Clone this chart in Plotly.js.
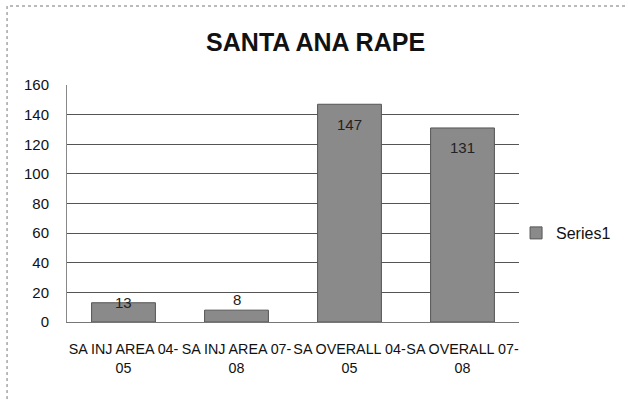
<!DOCTYPE html>
<html>
<head>
<meta charset="utf-8">
<script src="https://cdn.plot.ly/plotly-3.0.1.min.js"></script>
<style>html,body{margin:0;padding:0;background:#fff;}</style>
</head>
<body>
<div id="chart" style="width:628px;height:401px;"></div>
<script>
const categories = ["SA INJ AREA 04-<br>05", "SA INJ AREA 07-<br>08", "SA OVERALL 04-<br>05", "SA OVERALL 07-<br>08"];
const series1 = [13, 8, 147, 131];
const yTicks = [0, 20, 40, 60, 80, 100, 120, 140, 160];

const font = "Liberation Sans, Arial, sans-serif";

const trace = {
  type: "bar",
  x: categories,
  y: series1,
  name: "Series1",
  marker: {color: "#8a8a8a", line: {color: "#555", width: 1}},
  showlegend: true
};

// data labels placed Excel-style ("inside end"), computed from the values
const pxPerUnit = 237 / 160;
const labels = series1.map((v, i) => {
  const h = v * pxPerUnit;
  let yanchor = "middle", yshift = -20;
  if (h < 15) { yanchor = "bottom"; yshift = 0; }
  else if (h < 40) { yanchor = "middle"; yshift = 0; }
  return {
    x: categories[i], y: v, xref: "x", yref: "y",
    text: String(v), showarrow: false, yanchor: yanchor, yshift: yshift,
    font: {family: font, size: 15, color: "#222"}
  };
});

const layout = {
  width: 628, height: 401,
  margin: {l: 67, r: 101, t: 85, b: 79},
  paper_bgcolor: "#fff", plot_bgcolor: "#fff",
  title: {text: "<b>SANTA ANA RAPE</b>", font: {family: font, size: 25, color: "#111"}, x: 0.55, xref: "paper", xanchor: "center", y: 0.895, yanchor: "middle"},
  bargap: 0.435,
  xaxis: {
    tickfont: {family: font, size: 14.3, color: "#111"},
    tickangle: 0,
    showgrid: false, showline: true, linecolor: "#777", linewidth: 1,
    ticks: "", ticklabelstandoff: 14
  },
  yaxis: {
    range: [0, 160], tickvals: yTicks, ticktext: yTicks.map(String),
    tickfont: {family: font, size: 15, color: "#111"},
    showgrid: true, gridcolor: "#555", gridwidth: 1,
    showline: true, linecolor: "#888", linewidth: 1,
    zeroline: false, ticks: "", ticklabelstandoff: 14
  },
  annotations: labels,
  legend: {x: (524 - 67) / 460, xanchor: "left", y: (322 - 233) / 237, yanchor: "middle", font: {family: font, size: 16, color: "#111"}, itemwidth: 30, bgcolor: "rgba(0,0,0,0)"},
  shapes: [{
    type: "rect", xref: "paper", yref: "paper",
    x0: (6 - 67) / 460, x1: (640 - 67) / 460,
    y0: (322 - 410) / 237, y1: (322 - 6) / 237,
    line: {color: "#777", width: 1, dash: "dot"}
  }]
};

Plotly.newPlot("chart", [trace], layout, {displayModeBar: false, staticPlot: true});
</script>
</body>
</html>
